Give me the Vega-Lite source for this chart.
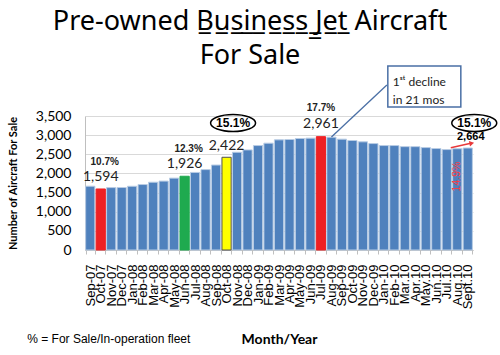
{
  "$schema": "https://vega.github.io/schema/vega-lite/v6.json",
  "width": 388,
  "height": 134,
  "autosize": {"type": "none"},
  "padding": {"left": 85, "top": 116, "right": 27, "bottom": 105},
  "background": "white",
  "title": {
    "text": ["Pre-owned B\u0332u\u0332s\u0332i\u0332n\u0332e\u0332s\u0332s\u0332 \u0332J\u0332e\u0332t\u0332 Aircraft", "For Sale"],
    "font": "Noto Sans",
    "fontSize": 27,
    "fontWeight": "normal",
    "color": "black",
    "lineHeight": 34,
    "anchor": "middle",
    "frame": "group",
    "dx": -29,
    "baseline": "bottom",
    "offset": -34
  },
  "datasets": {
    "bars": [
      {"month": "Sep-07", "value": 1666, "note": "none"},
      {"month": "Oct-07", "value": 1594, "note": "trough"},
      {"month": "Nov-07", "value": 1630, "note": "none"},
      {"month": "Dec-07", "value": 1632, "note": "none"},
      {"month": "Jan-08", "value": 1665, "note": "none"},
      {"month": "Feb-08", "value": 1710, "note": "none"},
      {"month": "Mar-08", "value": 1770, "note": "none"},
      {"month": "Apr-08", "value": 1800, "note": "none"},
      {"month": "May-08", "value": 1877, "note": "none"},
      {"month": "Jun-08", "value": 1926, "note": "mid"},
      {"month": "Jul-08", "value": 2026, "note": "none"},
      {"month": "Aug-08", "value": 2100, "note": "none"},
      {"month": "Sep-08", "value": 2219, "note": "none"},
      {"month": "Oct-08", "value": 2422, "note": "crash"},
      {"month": "Nov-08", "value": 2553, "note": "none"},
      {"month": "Dec-08", "value": 2614, "note": "none"},
      {"month": "Jan-09", "value": 2728, "note": "none"},
      {"month": "Feb-09", "value": 2790, "note": "none"},
      {"month": "Mar-09", "value": 2877, "note": "none"},
      {"month": "Apr-09", "value": 2886, "note": "none"},
      {"month": "May-09", "value": 2912, "note": "none"},
      {"month": "Jun-09", "value": 2921, "note": "none"},
      {"month": "Jul-09", "value": 2961, "note": "peak"},
      {"month": "Aug-09", "value": 2947, "note": "none"},
      {"month": "Sep-09", "value": 2895, "note": "none"},
      {"month": "Oct-09", "value": 2860, "note": "none"},
      {"month": "Nov-09", "value": 2825, "note": "none"},
      {"month": "Dec-09", "value": 2780, "note": "none"},
      {"month": "Jan-10", "value": 2728, "note": "none"},
      {"month": "Feb-10", "value": 2728, "note": "none"},
      {"month": "Mar.10", "value": 2700, "note": "none"},
      {"month": "Apr.10", "value": 2700, "note": "none"},
      {"month": "May.10", "value": 2675, "note": "none"},
      {"month": "Jun.10", "value": 2650, "note": "none"},
      {"month": "Jul.10", "value": 2623, "note": "none"},
      {"month": "Aug.10", "value": 2645, "note": "none"},
      {"month": "Sept.10", "value": 2664, "note": "none"}
    ],
    "nums": [
      {"month": "Oct-07", "value": 1915, "label": "1,594"},
      {"month": "Jun-08", "value": 2246, "label": "1,926"},
      {"month": "Oct-08", "value": 2716, "label": "2,422"},
      {"month": "Jul-09", "value": 3291, "label": "2,961"}
    ],
    "pcts": [
      {"month": "Oct-07", "value": 2286, "label": "10.7%"},
      {"month": "Jun-08", "value": 2651, "label": "12.3%"}
    ],
    "peakpct": [
      {"month": "Jul-09", "value": 3709, "label": "17.7%"}
    ],
    "last": [
      {"month": "Sept.10", "value": 2939, "label": "2,664"}
    ],
    "circled": [
      {"month": "Oct-08", "value": 3317, "label": "15.1%"},
      {"month": "Sept.10", "value": 3317, "label": "15.1%"}
    ],
    "rise": [
      {"month": "Aug.10", "value": 1920, "label": "14.9%"}
    ],
    "arrow": [
      {"month": "Aug.10", "value": 2672, "month2": "Sept.10", "value2": 2787}
    ],
    "arrowhead": [
      {"month": "Sept.10", "value": 2787}
    ],
    "leader": [
      {"month": "Aug-09", "value": 2952, "month2": "Jan-10", "value2": 4310}
    ],
    "callout": [
      {"month": "Apr.10", "value": 4271}
    ],
    "callouttext": [
      {"month": "Jan-10", "value": 4388, "label": ["1\u02e2\u1d57 decline", "in 21 mos"]}
    ],
    "footnote": [
      {"month": "Sep-07", "value": -2325, "label": "% = For Sale/In-operation fleet"}
    ]
  },
  "encoding": {
    "x": {
      "field": "month", "type": "nominal", "sort": null,
      "scale": {
        "domain": ["Sep-07","Oct-07","Nov-07","Dec-07","Jan-08","Feb-08","Mar-08","Apr-08","May-08","Jun-08","Jul-08","Aug-08","Sep-08","Oct-08","Nov-08","Dec-08","Jan-09","Feb-09","Mar-09","Apr-09","May-09","Jun-09","Jul-09","Aug-09","Sep-09","Oct-09","Nov-09","Dec-09","Jan-10","Feb-10","Mar.10","Apr.10","May.10","Jun.10","Jul.10","Aug.10","Sept.10"],
        "paddingInner": 0.12, "paddingOuter": 0.06
      },
      "axis": {
        "title": "Month/Year",
        "titleFont": "Lato", "titleFontSize": 14, "titleFontWeight": "bold", "titleColor": "black",
        "titlePadding": 24,
        "labelAngle": -90, "labelAlign": "right", "labelBaseline": "middle",
        "labelFont": "Liberation Sans", "labelFontSize": 13, "labelColor": "black",
        "labelPadding": 10, "labelOverlap": false, "labelBound": false,
        "tickBand": "extent", "tickSize": 4, "tickColor": "#bfbfbf",
        "domainColor": "#bfbfbf", "grid": false
      }
    },
    "y": {
      "field": "value", "type": "quantitative",
      "scale": {"domain": [0, 3500], "nice": false, "zero": true},
      "axis": {
        "title": "Number of Aircraft For Sale",
        "titleFont": "Lato", "titleFontSize": 11, "titleFontWeight": "bold", "titleColor": "black",
        "titlePadding": 17,
        "values": [0, 500, 1000, 1500, 2000, 2500, 3000, 3500],
        "format": ",d",
        "labelFont": "Lato", "labelFontSize": 14, "labelColor": "black", "labelPadding": 14,
        "labelOverlap": false, "labelFlush": false,
        "ticks": false, "domainColor": "#bfbfbf",
        "grid": true, "gridColor": "#d9d9d9"
      }
    }
  },
  "layer": [
    {
      "data": {"name": "bars"},
      "mark": {"type": "bar", "strokeWidth": 1},
      "encoding": {
        "fill": {
          "field": "note", "type": "nominal", "legend": null,
          "scale": {"domain": ["none", "trough", "mid", "crash", "peak"], "range": ["#4f81bd", "#ee2024", "#1faa4f", "#ffff00", "#ee2024"]}
        },
        "stroke": {
          "field": "note", "type": "nominal", "legend": null,
          "scale": {"domain": ["none", "trough", "mid", "crash", "peak"], "range": ["#b8cce4", "#ee2024", "#1faa4f", "#505050", "#ee2024"]}
        }
      }
    },
    {
      "data": {"name": "leader"},
      "mark": {"type": "rule", "color": "#4a6fa5", "strokeWidth": 1.3, "x2Offset": 3},
      "encoding": {
        "x2": {"field": "month2"},
        "y2": {"field": "value2"}
      }
    },
    {
      "data": {"name": "callout"},
      "mark": {"type": "point", "shape": "M-1,-0.5616L1,-0.5616L1,0.5616L-1,0.5616Z", "size": 5329, "filled": false, "fill": "white", "fillOpacity": 1, "stroke": "#4a6fa5", "strokeWidth": 1.5, "opacity": 1, "xOffset": 9},
      "encoding": {}
    },
    {
      "data": {"name": "callouttext"},
      "mark": {"type": "text", "font": "Lato", "fontSize": 12, "color": "#222222", "align": "left", "baseline": "middle", "lineHeight": 18, "dx": 9},
      "encoding": {"text": {"field": "label"}}
    },
    {
      "data": {"name": "nums"},
      "mark": {"type": "text", "font": "Lato", "fontSize": 14, "color": "#222222", "baseline": "middle"},
      "encoding": {"text": {"field": "label"}}
    },
    {
      "data": {"name": "pcts"},
      "mark": {"type": "text", "font": "Liberation Sans", "fontSize": 10, "fontWeight": "bold", "color": "#222222", "baseline": "middle", "dx": 4},
      "encoding": {"text": {"field": "label"}}
    },
    {
      "data": {"name": "peakpct"},
      "mark": {"type": "text", "font": "Liberation Sans", "fontSize": 10, "fontWeight": "bold", "color": "#222222", "baseline": "middle"},
      "encoding": {"text": {"field": "label"}}
    },
    {
      "data": {"name": "last"},
      "mark": {"type": "text", "font": "Liberation Sans", "fontSize": 11, "fontWeight": "bold", "color": "black", "baseline": "middle", "dx": 3},
      "encoding": {"text": {"field": "label"}}
    },
    {
      "data": {"name": "circled"},
      "mark": {"type": "point", "shape": "M-1,0C-1,-0.21,-0.552,-0.38,0,-0.38C0.552,-0.38,1,-0.21,1,0C1,0.21,0.552,0.38,0,0.38C-0.552,0.38,-1,0.21,-1,0Z", "size": 2025, "filled": false, "stroke": "black", "strokeWidth": 1.5, "opacity": 1, "xOffset": 6.5},
      "encoding": {}
    },
    {
      "data": {"name": "circled"},
      "mark": {"type": "text", "font": "Liberation Sans", "fontSize": 12, "fontWeight": "bold", "color": "black", "baseline": "middle", "dx": 6.5},
      "encoding": {"text": {"field": "label"}}
    },
    {
      "data": {"name": "rise"},
      "mark": {"type": "text", "font": "Liberation Sans", "fontSize": 10.5, "color": "#ff3b3b", "baseline": "middle", "angle": 270},
      "encoding": {"text": {"field": "label"}}
    },
    {
      "data": {"name": "arrow"},
      "mark": {"type": "rule", "color": "#e8393b", "strokeWidth": 1.5, "xOffset": -6.5, "x2Offset": 3},
      "encoding": {
        "x2": {"field": "month2"},
        "y2": {"field": "value2"}
      }
    },
    {
      "data": {"name": "arrowhead"},
      "mark": {"type": "point", "shape": "triangle-right", "size": 30, "filled": true, "color": "#e8393b", "opacity": 1, "angle": -12, "xOffset": 4},
      "encoding": {}
    },
    {
      "data": {"name": "footnote"},
      "mark": {"type": "text", "font": "Liberation Sans", "fontSize": 12, "color": "black", "align": "left", "baseline": "middle", "dx": -63},
      "encoding": {"text": {"field": "label"}}
    }
  ],
  "config": {
    "view": {"stroke": null}
  }
}
